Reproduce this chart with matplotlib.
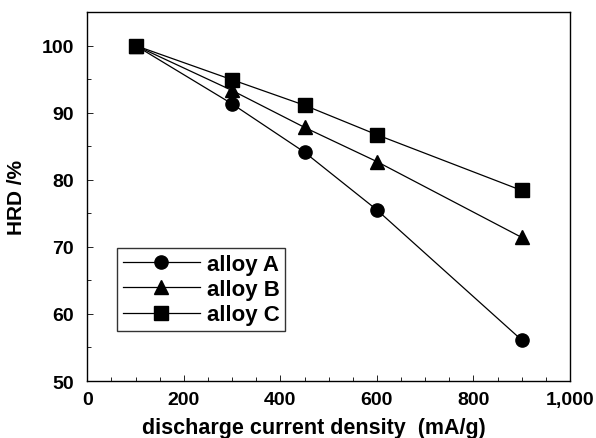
import numpy as np
import matplotlib.pyplot as plt
from matplotlib.ticker import MultipleLocator, FuncFormatter

plt.rcParams['font.family'] = ['Liberation Sans', 'DejaVu Sans']
plt.rcParams['font.weight'] = 'bold'

current = [100, 300, 450, 600, 900]
alloy_a = [100, 91.3, 84.1, 75.5, 56.1]
alloy_b = [100, 93.3, 87.8, 82.7, 71.4]
alloy_c = [100, 94.9, 91.1, 86.7, 78.4]

fig = plt.figure(figsize=(5.96, 4.39), dpi=100)
ax = fig.add_axes([0.1465, 0.1298, 0.8099, 0.8406])

ax.plot(current, alloy_a, 'k-', marker='o', markersize=9.5, lw=0.9, label='alloy A')
ax.plot(current, alloy_b, 'k-', marker='^', markersize=10, lw=0.9, label='alloy B')
ax.plot(current, alloy_c, 'k-', marker='s', markersize=9.5, lw=0.9, label='alloy C')

ax.set_xlim(0, 1000)
ax.set_ylim(50, 105)
ax.xaxis.set_major_locator(MultipleLocator(200))
ax.xaxis.set_minor_locator(MultipleLocator(50))
ax.yaxis.set_major_locator(MultipleLocator(10))
ax.yaxis.set_minor_locator(MultipleLocator(5))
ax.xaxis.set_major_formatter(FuncFormatter(lambda v, p: f"{int(v):,}"))
ax.tick_params(which='both', direction='in', top=False, right=False)
ax.tick_params(which='major', length=4, width=0.6, labelsize=14)
ax.tick_params(axis='x', which='major', pad=7.5)
ax.tick_params(axis='y', which='major', pad=9.5)
ax.tick_params(which='minor', length=3, width=0.6)
for lab in ax.get_xticklabels() + ax.get_yticklabels():
    lab.set_fontweight('bold')
for s in ax.spines.values():
    s.set_linewidth(1.0)

ax.set_xlabel('discharge current density  (mA/g)', fontsize=15.5, fontweight='bold', va='top')
ax.xaxis.set_label_coords(0.47, -0.097)
ax.set_ylabel('HRD /%', fontsize=15, fontweight='bold')
ax.yaxis.set_label_coords(-0.128, 0.5)

leg = ax.legend(loc='lower left', bbox_to_anchor=(0.0615, 0.1355), fontsize=16,
                handlelength=3.5, frameon=True, fancybox=False, edgecolor='black',
                borderpad=0.25, labelspacing=0.2, handletextpad=0.3, borderaxespad=0)
leg.get_frame().set_linewidth(1.0)

fig.savefig('out.png', dpi=100)
